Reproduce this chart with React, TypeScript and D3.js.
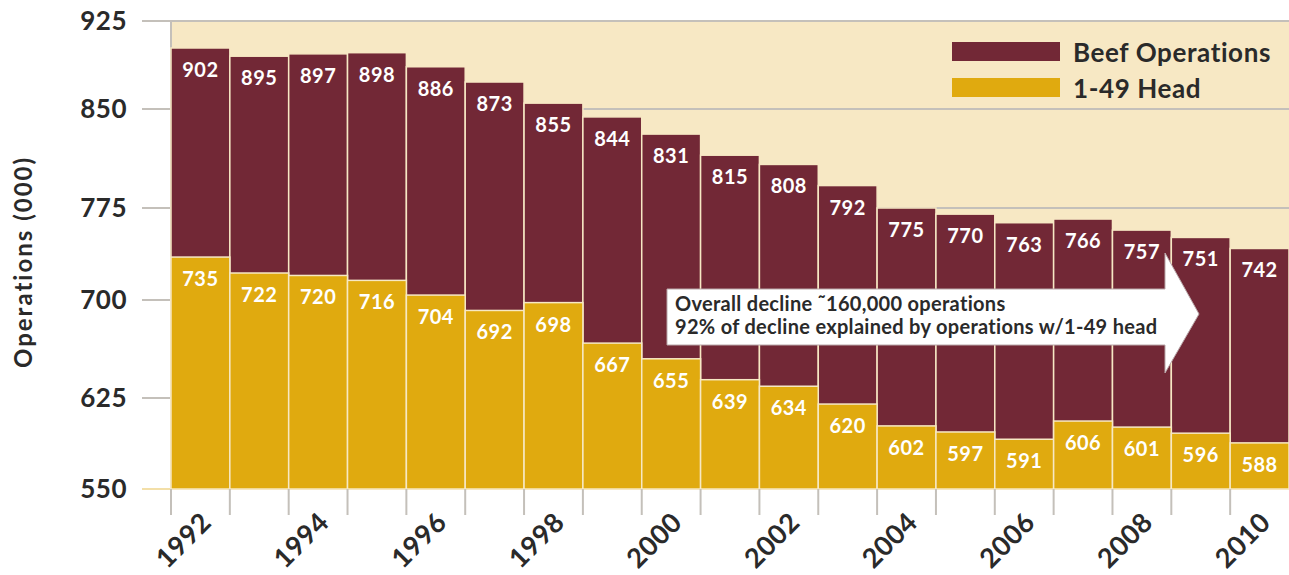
import React, { useRef, useEffect } from "react";
import * as d3 from "d3";

// years shown on the x axis
const years: string[] = [
  "1992", "1993", "1994", "1995", "1996", "1997", "1998", "1999", "2000", "2001",
  "2002", "2003", "2004", "2005", "2006", "2007", "2008", "2009", "2010",
];

// total beef operations (000)
const beefOperations: number[] = [
  902, 895, 897, 898, 886, 873, 855, 844, 831, 815, 808, 792, 775, 770, 763, 766, 757, 751, 742,
];

// operations with 1-49 head (000)
const smallHerds: number[] = [
  735, 722, 720, 716, 704, 692, 698, 667, 655, 639, 634, 620, 602, 597, 591, 606, 601, 596, 588,
];

const yTicks: number[] = [550, 625, 700, 775, 850, 925];
const xTickLabels: string[] = ["1992", "1994", "1996", "1998", "2000", "2002", "2004", "2006", "2008", "2010"];

const seriesNames: string[] = ["Beef Operations", "1-49 Head"];
const noteLines: string[] = [
  "Overall decline \u02dc160,000 operations",
  "92% of decline explained by operations w/1-49 head",
];

const MAROON = "#722836";
const GOLD = "#E0AA0F";
const CREAM = "#F7E8C4";
const FONT = "Lato, 'Open Sans', sans-serif";

const App: React.FC = () => {
  const ref = useRef<SVGSVGElement>(null);

  useEffect(() => {
    const svg = d3.select(ref.current);
    svg.selectChildren().remove();

    const left = 171;
    const right = 1289;
    const top = 21;
    const bottom = 489;

    const x = d3.scaleBand<string>().domain(years).range([left, right]).padding(0);
    // gridlines in the original are not evenly spaced, follow them
    const y = d3
      .scaleLinear()
      .domain(yTicks)
      .range([489, 398, 300, 208, 109, 21]);

    // plot background
    svg
      .append("rect")
      .attr("x", left)
      .attr("y", top)
      .attr("width", right - left)
      .attr("height", bottom - top)
      .attr("fill", CREAM);

    // gridlines
    svg
      .append("g")
      .selectAll("line")
      .data(yTicks)
      .join("line")
      .attr("x1", 142)
      .attr("x2", right)
      .attr("y1", (d) => y(d))
      .attr("y2", (d) => y(d))
      .attr("stroke", (d) => (d === 550 ? "#F3DFA8" : "#C4C0BA"))
      .attr("stroke-width", 2);

    svg
      .append("line")
      .attr("x1", left)
      .attr("x2", left)
      .attr("y1", top)
      .attr("y2", bottom)
      .attr("stroke", "#C4C0BA")
      .attr("stroke-width", 2);

    // y tick labels
    svg
      .append("g")
      .selectAll("text")
      .data(yTicks)
      .join("text")
      .attr("x", 127)
      .attr("y", (d) => y(d))
      .attr("dy", "0.36em")
      .attr("text-anchor", "end")
      .attr("font-family", FONT)
      .attr("font-weight", "bold")
      .attr("font-size", 26)
      .attr("letter-spacing", 0.5)
      .attr("fill", "#2a2a2a")
      .text((d) => d);

    svg
      .append("text")
      .attr("transform", `translate(32,262) rotate(-90)`)
      .attr("text-anchor", "middle")
      .attr("font-family", FONT)
      .attr("font-weight", "bold")
      .attr("font-size", 24)
      .attr("letter-spacing", 2)
      .attr("fill", "#2a2a2a")
      .text("Operations (000)");

    // bars: totals behind, small herds in front
    const bw = x.bandwidth();
    const drawBars = (values: number[], color: string) => {
      svg
        .append("g")
        .selectAll("rect")
        .data(values)
        .join("rect")
        .attr("x", (_, i) => x(years[i])!)
        .attr("y", (d) => y(d))
        .attr("width", bw)
        .attr("height", (d) => y(550) - y(d))
        .attr("fill", color)
        .attr("stroke", CREAM)
        .attr("stroke-width", 1.5);
    };
    drawBars(beefOperations, MAROON);
    drawBars(smallHerds, GOLD);

    const drawLabels = (values: number[]) => {
      svg
        .append("g")
        .selectAll("text")
        .data(values)
        .join("text")
        .attr("x", (_, i) => x(years[i])! + bw / 2)
        .attr("y", (d) => y(d) + 29)
        .attr("text-anchor", "middle")
        .attr("font-family", FONT)
        .attr("font-weight", "bold")
        .attr("font-size", 20)
        .attr("letter-spacing", 0.5)
        .attr("fill", "#fff")
        .text((d) => d);
    };
    drawLabels(beefOperations);
    drawLabels(smallHerds);

    // x ticks
    svg
      .append("g")
      .selectAll("line")
      .data(years)
      .join("line")
      .attr("x1", (d) => x(d)!)
      .attr("x2", (d) => x(d)!)
      .attr("y1", bottom)
      .attr("y2", 515)
      .attr("stroke", "#C4C0BA")
      .attr("stroke-width", 2);

    svg
      .append("g")
      .selectAll("text")
      .data(xTickLabels)
      .join("text")
      .attr("transform", (d) => `translate(${x(d)! + 42},524) rotate(-45)`)
      .attr("text-anchor", "end")
      .attr("font-family", FONT)
      .attr("font-weight", "bold")
      .attr("font-size", 27)
      .attr("letter-spacing", 0.5)
      .attr("fill", "#2a2a2a")
      .text((d) => d);

    // legend
    const legend = svg.append("g");
    [MAROON, GOLD].forEach((c, i) => {
      legend
        .append("rect")
        .attr("x", 952)
        .attr("y", 42 + i * 36)
        .attr("width", 108)
        .attr("height", 19)
        .attr("fill", c);
      legend
        .append("text")
        .attr("x", 1073)
        .attr("y", 62 + i * 36)
        .attr("font-family", FONT)
        .attr("font-weight", "bold")
        .attr("font-size", 26)
        .attr("letter-spacing", 0.6)
        .attr("fill", "#2a2a2a")
        .text(seriesNames[i]);
    });

    // annotation arrow
    const arrow = d3.path();
    arrow.moveTo(667, 289);
    arrow.lineTo(1165, 289);
    arrow.lineTo(1165, 253);
    arrow.lineTo(1199, 314);
    arrow.lineTo(1165, 373);
    arrow.lineTo(1165, 345);
    arrow.lineTo(667, 345);
    arrow.closePath();
    svg
      .append("path")
      .attr("d", arrow.toString())
      .attr("fill", "#fff")
      .attr("stroke", "#B9A7A9")
      .attr("stroke-width", 1);

    svg
      .append("g")
      .selectAll("text")
      .data(noteLines)
      .join("text")
      .attr("x", 675)
      .attr("y", (_, i) => 311 + i * 23)
      .attr("font-family", FONT)
      .attr("font-weight", "bold")
      .attr("font-size", 20)
      .attr("letter-spacing", 0.3)
      .attr("fill", "#2a2a2a")
      .text((d) => d);
  }, []);

  return (
    <div style={{ position: "absolute", left: 0, top: 0 }}>
      <svg ref={ref} width={1289} height={575} style={{ display: "block" }} />
    </div>
  );
};

export default App;
